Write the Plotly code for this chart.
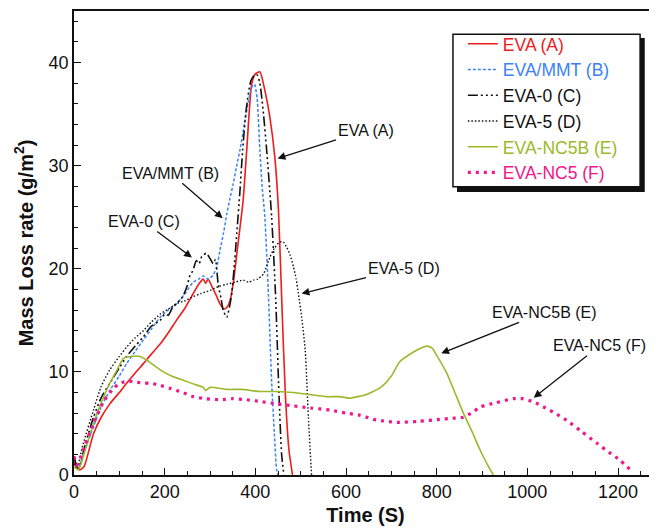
import plotly.graph_objects as go

# ---- data ----
t_A = [0, 5, 13, 22, 43, 60, 79, 100, 116, 135, 153, 170, 190, 208, 226, 245, 263, 275, 285, 290, 296, 305, 315, 322, 331, 338, 344, 351, 362, 373, 381, 392, 400, 410, 420, 432, 443, 451, 458, 466, 474, 482]
y_A = [1.3, 0.8, 0.5, 0.8, 4.0, 5.6, 6.9, 8.0, 8.9, 9.9, 10.8, 11.7, 12.7, 13.8, 15.0, 16.2, 17.6, 18.5, 19.0, 18.6, 19.0, 18.2, 17.3, 16.6, 16.1, 16.3, 16.9, 18.5, 22.5, 26.6, 31.5, 37.9, 38.9, 39.1, 37.5, 34.7, 30.8, 25.7, 17.3, 8.0, 2.5, 0]

t_B = [0, 10, 25, 43, 60, 79, 100, 116, 135, 153, 170, 190, 208, 226, 245, 263, 275, 285, 296, 307, 315, 322, 330, 337, 344, 351, 358, 366, 375, 385, 392, 398, 404, 410, 415, 421, 429, 436, 442, 447, 450]
y_B = [1.6, 0.8, 2.5, 4.7, 6.6, 8.2, 9.6, 10.8, 12.0, 13.1, 14.1, 15.3, 16.0, 16.6, 17.6, 18.7, 19.0, 19.3, 19.0, 19.4, 20.2, 21.8, 23.5, 25.3, 26.8, 28.2, 29.8, 31.5, 33.8, 36.3, 37.6, 37.9, 36.5, 31.5, 28.0, 25.0, 17.3, 9.0, 4.0, 0.5, 0]

t_C = [0, 5, 10, 25, 43, 60, 79, 100, 116, 135, 153, 170, 190, 200, 208, 218, 226, 240, 250, 256, 262, 270, 276, 282, 292, 300, 307, 312, 318, 324, 329, 337, 343, 348, 353, 359, 366, 372, 380, 390, 398, 404, 410, 418, 425, 436, 445, 452, 458, 463]
y_C = [1.8, 1.0, 0.6, 3.0, 5.6, 7.5, 8.9, 10.4, 11.5, 12.5, 13.4, 14.4, 15.0, 15.6, 15.5, 16.3, 16.6, 17.3, 18.4, 19.4, 19.8, 20.8, 20.5, 21.2, 21.5, 21.0, 20.5, 20.9, 18.5, 17.2, 16.0, 15.3, 16.3, 17.6, 20.0, 23.4, 27.5, 31.5, 35.5, 38.2, 38.8, 38.8, 38.0, 35.0, 31.5, 25.0, 17.0, 8.0, 2.0, 0]

t_D = [0, 6, 20, 43, 60, 79, 100, 116, 135, 153, 170, 190, 208, 226, 245, 263, 280, 300, 320, 337, 355, 373, 385, 396, 405, 418, 425, 432, 442, 454, 462, 469, 477, 484, 490, 495, 503, 510, 517, 524]
y_D = [1.1, 0.6, 3.0, 6.3, 8.6, 10.2, 11.5, 12.4, 13.3, 14.0, 14.8, 15.6, 16.1, 16.6, 16.9, 17.3, 17.6, 17.9, 18.3, 18.5, 18.7, 18.9, 18.7, 18.9, 19.0, 19.5, 20.3, 21.1, 22.0, 22.6, 22.6, 22.1, 21.3, 20.2, 19.0, 17.6, 15.0, 12.1, 5.6, 0]

t_E = [0, 10, 25, 43, 60, 79, 95, 109, 125, 146, 165, 190, 215, 241, 265, 285, 290, 300, 337, 370, 410, 450, 484, 520, 557, 585, 609, 625, 638, 660, 682, 700, 719, 748, 765, 778, 790, 800, 822, 840, 859, 878, 896, 912, 925]
y_E = [0.8, 0.5, 2.5, 5.0, 7.0, 8.9, 10.2, 11.3, 11.5, 11.5, 11.0, 10.2, 9.6, 9.2, 8.8, 8.5, 8.2, 8.5, 8.3, 8.3, 8.1, 8.1, 8.0, 7.8, 7.6, 7.6, 7.45, 7.6, 7.7, 8.1, 8.7, 9.6, 11.0, 11.9, 12.3, 12.5, 12.3, 11.6, 9.9, 8.0, 6.0, 4.2, 2.4, 1.0, 0]

t_F = [0, 7, 25, 43, 65, 85, 101, 120, 138, 155, 168, 190, 212, 240, 263, 290, 322, 350, 381, 415, 447, 485, 521, 565, 600, 631, 660, 690, 712, 760, 807, 835, 859, 880, 896, 930, 969, 990, 1013, 1040, 1065, 1087, 1120, 1153, 1180, 1204, 1220, 1233]
y_F = [1.8, 1.0, 3.0, 5.0, 7.1, 8.3, 8.9, 9.1, 9.0, 8.9, 8.9, 8.7, 8.4, 8.0, 7.6, 7.4, 7.3, 7.4, 7.3, 7.1, 6.9, 6.7, 6.5, 6.3, 6.0, 5.8, 5.4, 5.2, 5.1, 5.2, 5.4, 5.5, 5.6, 6.1, 6.6, 7.0, 7.4, 7.4, 7.1, 6.5, 5.9, 5.3, 4.2, 3.1, 2.2, 1.45, 0.8, 0.3]

names = ["EVA (A)", "EVA/MMT (B)", "EVA-0 (C)", "EVA-5 (D)", "EVA-NC5B (E)", "EVA-NC5 (F)"]
colors = ["#ee1c1c", "#3b82f6", "#111111", "#111111", "#9aba2b", "#f0178c"]

# annotation labels: (text, head x, head y, ax, ay)
ann_text = ["EVA (A)", "EVA/MMT (B)", "EVA-0 (C)", "EVA-5 (D)", "EVA-NC5B (E)", "EVA-NC5 (F)"]
ann_x = [449, 328, 260, 502, 810, 1014]
ann_y = [30.7, 24.9, 21.1, 17.6, 11.8, 7.5]
ann_ax = [88, -52, -48, 102, 103, 66]
ann_ay = [-28, -45, -36, -25, -41, -52]

styles = [
    dict(width=1.6, dash="solid"),
    dict(width=1.5, dash="3px,2px"),
    dict(width=1.6, dash="10px,3px,2px,3px,2px,3px,2px,3px"),
    dict(width=1.4, dash="1.5px,2px"),
    dict(width=1.6, dash="solid"),
    dict(width=3.2, dash="3px,5px"),
]

fig = go.Figure()
series = [(t_A, y_A), (t_B, y_B), (t_C, y_C), (t_D, y_D), (t_E, y_E), (t_F, y_F)]
for (tx, ty), nm, col, st in zip(series, names, colors, styles):
    fig.add_trace(go.Scatter(
        x=tx, y=ty, mode="lines",
        name=f"<span style='color:{col}'>{nm}</span>",
        line=dict(color=col, width=st["width"], dash=st["dash"], shape="spline", smoothing=0.6),
    ))

for txt, hx, hy, ax, ay in zip(ann_text, ann_x, ann_y, ann_ax, ann_ay):
    fig.add_annotation(
        x=hx, y=hy, ax=ax, ay=ay, text=txt, showarrow=True,
        arrowhead=2, arrowsize=1.2, arrowwidth=1.3, arrowcolor="#111111",
        font=dict(size=16, color="#111111"),
    )

# legend box with shadow
fig.add_shape(type="rect", xref="paper", yref="paper",
              x0=0.657, x1=0.979, y0=0.610, y1=0.942,
              fillcolor="#111111", line=dict(width=0), layer="above")
fig.add_shape(type="rect", xref="paper", yref="paper",
              x0=0.650, x1=0.971, y0=0.621, y1=0.950,
              fillcolor="white", line=dict(color="#111111", width=1.5), layer="above")

# page body adds an 8px margin, so the figure is sized/margined to compensate
fig.update_layout(
    width=649, height=522,
    margin=dict(l=66, r=0, t=3, b=55),
    paper_bgcolor="white", plot_bgcolor="white",
    font=dict(family="Liberation Sans, Arial, sans-serif", color="#111111"),
    showlegend=True,
    legend=dict(x=0.667, y=0.968, xanchor="left", yanchor="top",
                bgcolor="rgba(0,0,0,0)", borderwidth=0,
                font=dict(size=17.5), tracegroupgap=0),
    xaxis=dict(
        range=[0, 1286], showgrid=False, zeroline=False,
        showline=True, linecolor="#111111", linewidth=1.5, mirror=True,
        ticks="inside", ticklen=7, tickwidth=1.2, tickcolor="#111111",
        tick0=0, dtick=200, tickfont=dict(size=18),
        minor=dict(ticks="inside", ticklen=4, dtick=50, tickcolor="#111111", tickwidth=1),
        title=dict(text="<b>Time (S)</b>", font=dict(size=20), standoff=7),
    ),
    yaxis=dict(
        range=[0, 45], showgrid=False, zeroline=False,
        showline=True, linecolor="#111111", linewidth=1.5,
        ticks="inside", ticklen=7, tickwidth=1.2, tickcolor="#111111",
        tick0=0, dtick=10, tickfont=dict(size=18),
        minor=dict(ticks="inside", ticklen=4, dtick=2, tickcolor="#111111", tickwidth=1),
        title=dict(text="<b>Mass Loss rate (g/m<sup>2</sup>)</b>", font=dict(size=20), standoff=10),
    ),
)

fig.write_html("out.html")
